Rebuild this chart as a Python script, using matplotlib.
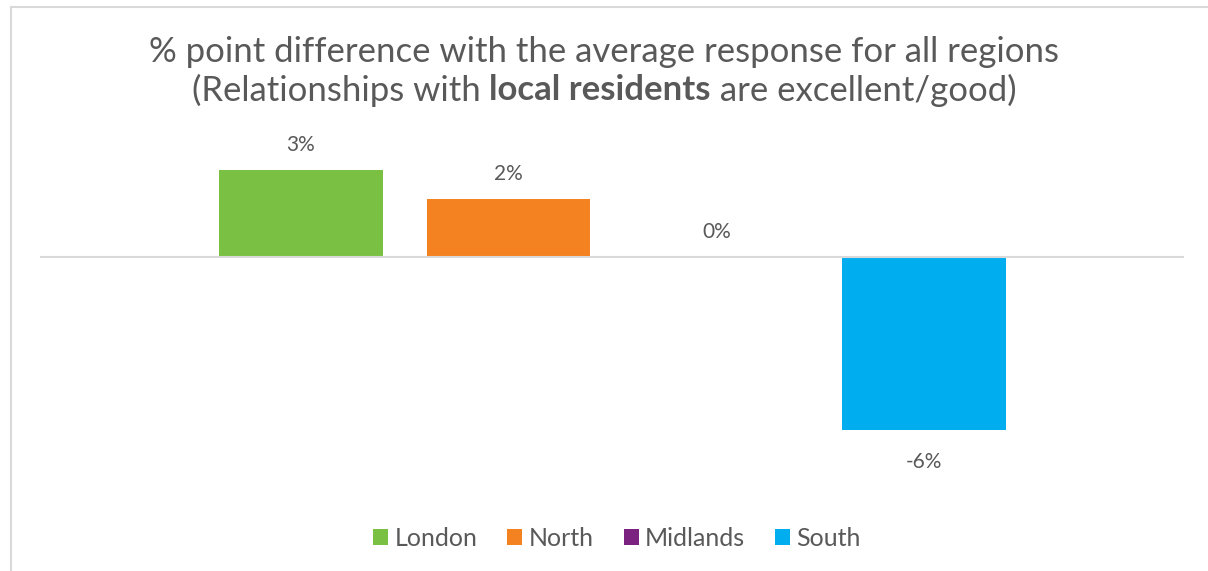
import numpy as np
import matplotlib
matplotlib.use("Agg")
import matplotlib.pyplot as plt
from matplotlib.patches import Rectangle

regions = ["London", "North", "Midlands", "South"]
values = [3, 2, 0, -6]
colors = ["#7AC143", "#F58220", "#7B2281", "#00AEEF"]
labels = ["3%", "2%", "0%", "-6%"]

W, H = 1208, 571
text_color = "#595959"
plt.rcParams["font.family"] = ["Lato", "DejaVu Sans"]

fig = plt.figure(figsize=(W / 100, H / 100), dpi=100)

# chart frame (cropped on the right and bottom)
fig.patches.append(Rectangle((11 / W, -0.1), 1.1, 1 - 7 / H + 0.1,
                             transform=fig.transFigure, fill=False,
                             edgecolor="#d9d9d9", linewidth=1.5))

ax = fig.add_axes([40 / W, 1 - 470 / H, 1144 / W, 340 / H])
x = np.arange(len(regions))
for i in range(len(regions)):
    ax.bar(x[i], values[i], width=0.788, color=colors[i], label=regions[i])
    if values[i] >= 0:
        ax.annotate(labels[i], (x[i], values[i]), xytext=(0, 18),
                    textcoords="offset points", ha="center", va="center",
                    fontsize=15, color=text_color)
    else:
        ax.annotate(labels[i], (x[i], values[i]), xytext=(0, -23),
                    textcoords="offset points", ha="center", va="center",
                    fontsize=15, color=text_color)

ax.axhline(0, color="#d9d9d9", linewidth=1.5)
ax.set_xlim(-1.255, 4.25)
ax.set_ylim(-7.40, 4.39)
ax.axis("off")

# title
fig.text(0.5, 1 - 52 / H, "% point difference with the average response for all regions",
         ha="center", va="center", fontsize=25, color=text_color)
parts = [("(Relationships with ", "normal"), ("local residents", "bold"),
         (" are excellent/good)", "normal")]
fig.canvas.draw()
renderer = fig.canvas.get_renderer()
objs = []
widths = []
for s, wt in parts:
    t = fig.text(0, 1 - 90 / H, s, ha="left", va="center", fontsize=25,
                 color=text_color, fontweight=wt)
    objs.append(t)
    widths.append(t.get_window_extent(renderer).width)
start = (W - sum(widths)) / 2
for t, w in zip(objs, widths):
    t.set_x(start / W)
    start += w

leg = fig.legend(loc="center", bbox_to_anchor=(617 / W, 1 - 538 / H), ncol=4,
                 frameon=False, fontsize=18, handlelength=0.6, handleheight=0.6,
                 handletextpad=0.25, columnspacing=1.2)
for t in leg.get_texts():
    t.set_color(text_color)

fig.savefig("out.png", dpi=100)
